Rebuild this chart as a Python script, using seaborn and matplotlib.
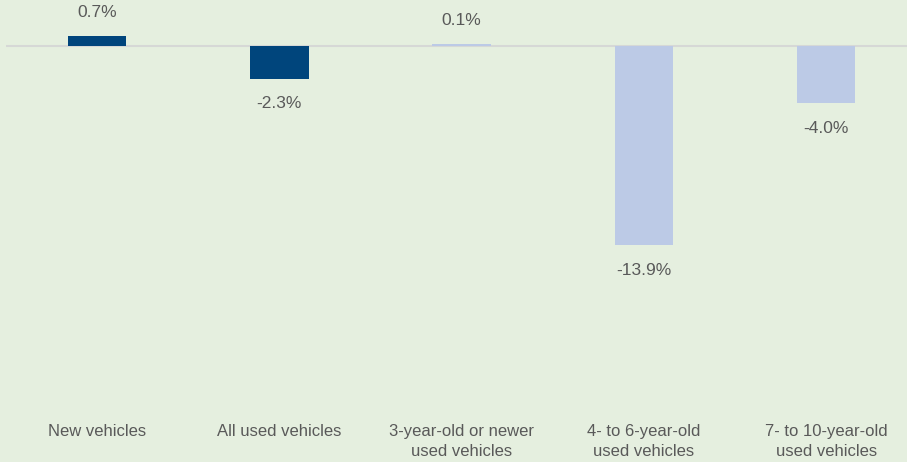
import matplotlib.pyplot as plt
import seaborn as sns

## Data
categories = ['New vehicles', 'All used vehicles', '3-year-old or newer\nused vehicles',
              '4- to 6-year-old\nused vehicles', '7- to 10-year-old\nused vehicles']
values = [0.7, -2.3, 0.1, -13.9, -4.0]
labels = ['0.7%', '-2.3%', '0.1%', '-13.9%', '-4.0%']
bar_colors = ['#00457C', '#00457C', '#BCCAE6', '#BCCAE6', '#BCCAE6']

bg = '#E5EFDF'
sns.set_style('white')
plt.rcParams['font.family'] = ['Liberation Sans', 'DejaVu Sans']

fig = plt.figure(figsize=(9.07, 4.62), dpi=100, facecolor=bg)
ax = fig.add_axes([6/907, 52/462, 901/907, 410/462])
ax.set_facecolor(bg)

sns.barplot(x=categories, y=values, hue=categories, palette=bar_colors,
            legend=False, width=0.32, saturation=1, linewidth=0, ax=ax)

ax.axhline(0, color='#D6D8D6', lw=1.5, zorder=0.5)
ax.set_xlim(-0.5, 4.444)
ax.set_ylim(-25.4, 3.2)

for i, (v, t) in enumerate(zip(values, labels)):
    off = 17 if v >= 0 else -18
    ax.annotate(t, (i, v), xytext=(0, off), textcoords='offset points',
                ha='center', va='center', fontsize=12.5, color='#595959')

ax.set_yticks([])
ax.tick_params(axis='x', length=0, pad=10, labelsize=12, labelcolor='#595959')
for lab in ax.get_xticklabels():
    lab.set_linespacing(1.4)
for s in ax.spines.values():
    s.set_visible(False)

fig.savefig('out.png', dpi=100, facecolor=bg)
